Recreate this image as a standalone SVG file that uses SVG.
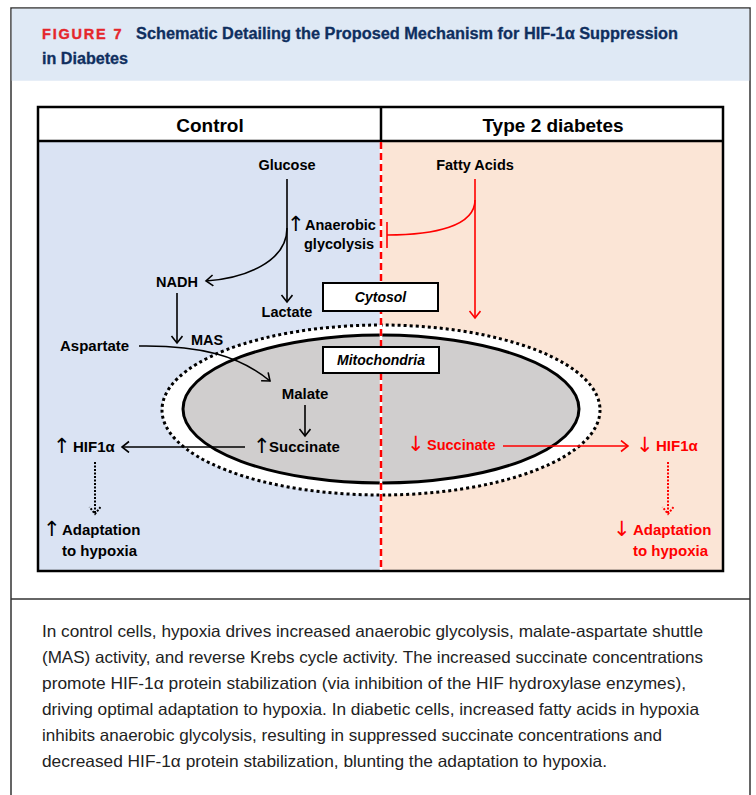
<svg xmlns="http://www.w3.org/2000/svg" width="756" height="795" viewBox="0 0 756 795">
<style>
  .lbl { font-family: "Liberation Sans", Arial, sans-serif; font-weight: bold; font-size: 14.5px; fill: #000; }
  .big { font-size: 15px; }
  .red { fill: #ff0000; }
  .arr { font-family: "DejaVu Sans", sans-serif; font-weight: normal; font-size: 21px; }
  .hdr { font-family: "Liberation Sans", Arial, sans-serif; font-weight: bold; font-size: 19px; fill: #000; }
  .box { fill: #fff; stroke: #000; stroke-width: 2; }
  .ital { font-family: "Liberation Sans", Arial, sans-serif; font-weight: bold; font-style: italic; font-size: 14px; fill: #000; }
  .cap { font-family: "Liberation Sans", Arial, sans-serif; font-size: 16.5px; fill: #222; }
  .conn { fill: none; stroke: #000; stroke-width: 1.6; }
  .rconn { fill: none; stroke: #ff0000; stroke-width: 1.6; }
</style>
<defs>
  <marker id="ah" markerUnits="userSpaceOnUse" markerWidth="14" markerHeight="14" refX="10" refY="6" orient="auto">
    <path d="M3,0.5 L10,6 L3,11.5" fill="none" stroke="#000" stroke-width="1.6"/>
  </marker>
  <marker id="ahr" markerUnits="userSpaceOnUse" markerWidth="14" markerHeight="14" refX="10" refY="6" orient="auto">
    <path d="M3,0.5 L10,6 L3,11.5" fill="none" stroke="#ff0000" stroke-width="1.6"/>
  </marker>
  <marker id="ahd" markerUnits="userSpaceOnUse" markerWidth="14" markerHeight="14" refX="10" refY="6" orient="auto">
    <path d="M3,0.5 L10,6 L3,11.5" fill="none" stroke="#000" stroke-width="2" stroke-dasharray="2,1.5"/>
  </marker>
  <marker id="ahdr" markerUnits="userSpaceOnUse" markerWidth="14" markerHeight="14" refX="10" refY="6" orient="auto">
    <path d="M3,0.5 L10,6 L3,11.5" fill="none" stroke="#ff0000" stroke-width="2" stroke-dasharray="2,1.5"/>
  </marker>
</defs>

<!-- page frame -->
<rect x="0" y="0" width="756" height="795" fill="#fff"/>
<rect x="11" y="8" width="739" height="800" fill="#fff" stroke="#333" stroke-width="1.5"/>
<rect x="11.75" y="8.75" width="737.5" height="72" fill="#dfe9f5"/>
<line x1="11" y1="599" x2="750" y2="599" stroke="#333" stroke-width="1.5"/>

<g id="title">
  <text x="42" y="39" font-family="'Liberation Sans', Arial, sans-serif" font-weight="bold" font-size="14.5" fill="#e5262c" letter-spacing="1.8" stroke="#e5262c" stroke-width="0.4">FIGURE 7</text>
  <text x="136" y="39" font-family="'Liberation Sans', Arial, sans-serif" font-weight="bold" font-size="16" fill="#0f2f5f" stroke="#0f2f5f" stroke-width="0.3" textLength="542" lengthAdjust="spacingAndGlyphs">Schematic Detailing the Proposed Mechanism for HIF-1α Suppression</text>
  <text x="42" y="64" font-family="'Liberation Sans', Arial, sans-serif" font-weight="bold" font-size="16" fill="#0f2f5f" stroke="#0f2f5f" stroke-width="0.3" textLength="86" lengthAdjust="spacingAndGlyphs">in Diabetes</text>
</g>

<!-- panels -->
<g id="panels">
  <rect x="38" y="141" width="343" height="430" fill="#dae3f3"/>
  <rect x="381" y="141" width="342" height="430" fill="#fbe5d6"/>
  <rect x="38" y="107" width="685" height="34" fill="#fff"/>
  <rect x="38" y="107" width="685" height="464" fill="none" stroke="#000" stroke-width="2.5"/>
  <line x1="38" y1="141" x2="723" y2="141" stroke="#000" stroke-width="2.5"/>
  <line x1="381" y1="107" x2="381" y2="141" stroke="#000" stroke-width="2.5"/>
  <text class="hdr" x="210" y="132" text-anchor="middle">Control</text>
  <text class="hdr" x="553" y="132" text-anchor="middle">Type 2 diabetes</text>
</g>

<!-- mitochondrion -->
<g id="mitochondrion">
  <ellipse cx="381" cy="410" rx="219" ry="85" fill="#fff" stroke="#000" stroke-width="3" stroke-dasharray="3,3"/>
  <ellipse cx="381" cy="409" rx="198" ry="74" fill="#d0cece" stroke="#000" stroke-width="3"/>
</g>

<!-- divider -->
<g id="divider">
  <line x1="381" y1="142" x2="381" y2="570" stroke="#fff" stroke-width="2.5"/>
  <line x1="381" y1="142" x2="381" y2="570" stroke="#ff0000" stroke-width="2.5" stroke-dasharray="7,4"/>
</g>

<g id="cytosol">
  <rect class="box" x="323" y="283" width="115" height="28"/>
  <text class="ital" x="380.5" y="302" text-anchor="middle">Cytosol</text>
</g>
<g id="mito-label">
  <rect class="box" x="323" y="347" width="116" height="26"/>
  <text class="ital" x="381" y="365" text-anchor="middle">Mitochondria</text>
</g>

<!-- connectors -->
<g id="connectors">
  <path class="conn" d="M287,179 L287,302" marker-end="url(#ah)"/>
  <path class="conn" d="M287,228 C287,262 245,278 206,281" marker-end="url(#ah)"/>
  <path class="conn" d="M177,293 L177,343" marker-end="url(#ah)"/>
  <path class="conn" d="M139,346 C200,345 240,356 270,381" marker-end="url(#ah)"/>
  <path class="conn" d="M305,405 L305,436" marker-end="url(#ah)"/>
  <path class="conn" d="M245,447 L122,447" marker-end="url(#ah)"/>
  <path fill="none" stroke="#000" stroke-width="2" stroke-dasharray="2,1.5" d="M95,462 L95,514" marker-end="url(#ahd)"/>
  <path class="rconn" d="M475,179 L475,318" marker-end="url(#ahr)"/>
  <path class="rconn" d="M475,200 C475,226 435,235 387,235"/>
  <path class="rconn" d="M387,222 L387,248"/>
  <path class="rconn" d="M503,446 L628,446" marker-end="url(#ahr)"/>
  <path fill="none" stroke="#ff0000" stroke-width="2" stroke-dasharray="2,1.5" d="M668,462 L668,514" marker-end="url(#ahdr)"/>
</g>

<!-- nodes -->
<g id="glucose"><text class="lbl" x="287" y="170" text-anchor="middle">Glucose</text></g>
<g id="anaerobic">
  <text class="lbl" x="287" y="231"><tspan class="arr">↑</tspan><tspan x="305" y="230">Anaerobic</tspan></text>
  <text class="lbl" x="304" y="249">glycolysis</text>
</g>
<g id="nadh"><text class="lbl" x="177" y="287" text-anchor="middle">NADH</text></g>
<g id="lactate"><text class="lbl" x="287" y="317" text-anchor="middle">Lactate</text></g>
<g id="mas"><text class="lbl" x="191" y="345">MAS</text></g>
<g id="aspartate"><text class="lbl big" x="60" y="351">Aspartate</text></g>
<g id="malate"><text class="lbl big" x="305" y="399" text-anchor="middle">Malate</text></g>
<g id="succinate-up"><text class="lbl big" x="253" y="453"><tspan class="arr">↑</tspan><tspan x="269" y="452">Succinate</tspan></text></g>
<g id="hif-up"><text class="lbl big" x="53" y="453"><tspan class="arr">↑</tspan><tspan x="73" y="452">HIF1α</tspan></text></g>
<g id="adapt-up">
  <text class="lbl big" x="43" y="536"><tspan class="arr">↑</tspan><tspan x="62" y="535">Adaptation</tspan></text>
  <text class="lbl big" x="62" y="556">to hypoxia</text>
</g>
<g id="fatty"><text class="lbl" x="475" y="170" text-anchor="middle">Fatty Acids</text></g>
<g id="succinate-down"><text class="lbl red" x="407" y="451"><tspan class="arr">↓</tspan><tspan x="427" y="450">Succinate</tspan></text></g>
<g id="hif-down"><text class="lbl big red" x="636" y="452"><tspan class="arr">↓</tspan><tspan x="656" y="451">HIF1α</tspan></text></g>
<g id="adapt-down">
  <text class="lbl big red" x="613" y="536"><tspan class="arr">↓</tspan><tspan x="633" y="535">Adaptation</tspan></text>
  <text class="lbl big red" x="633" y="556">to hypoxia</text>
</g>

<!-- caption -->
<g id="caption">
  <text class="cap" x="42" y="637" textLength="661" lengthAdjust="spacingAndGlyphs">In control cells, hypoxia drives increased anaerobic glycolysis, malate-aspartate shuttle</text>
  <text class="cap" x="42" y="663" textLength="661" lengthAdjust="spacingAndGlyphs">(MAS) activity, and reverse Krebs cycle activity. The increased succinate concentrations</text>
  <text class="cap" x="42" y="689" textLength="644" lengthAdjust="spacingAndGlyphs">promote HIF-1α protein stabilization (via inhibition of the HIF hydroxylase enzymes),</text>
  <text class="cap" x="42" y="715" textLength="657" lengthAdjust="spacingAndGlyphs">driving optimal adaptation to hypoxia. In diabetic cells, increased fatty acids in hypoxia</text>
  <text class="cap" x="42" y="741" textLength="620" lengthAdjust="spacingAndGlyphs">inhibits anaerobic glycolysis, resulting in suppressed succinate concentrations and</text>
  <text class="cap" x="42" y="767" textLength="565" lengthAdjust="spacingAndGlyphs">decreased HIF-1α protein stabilization, blunting the adaptation to hypoxia.</text>
</g>
</svg>
